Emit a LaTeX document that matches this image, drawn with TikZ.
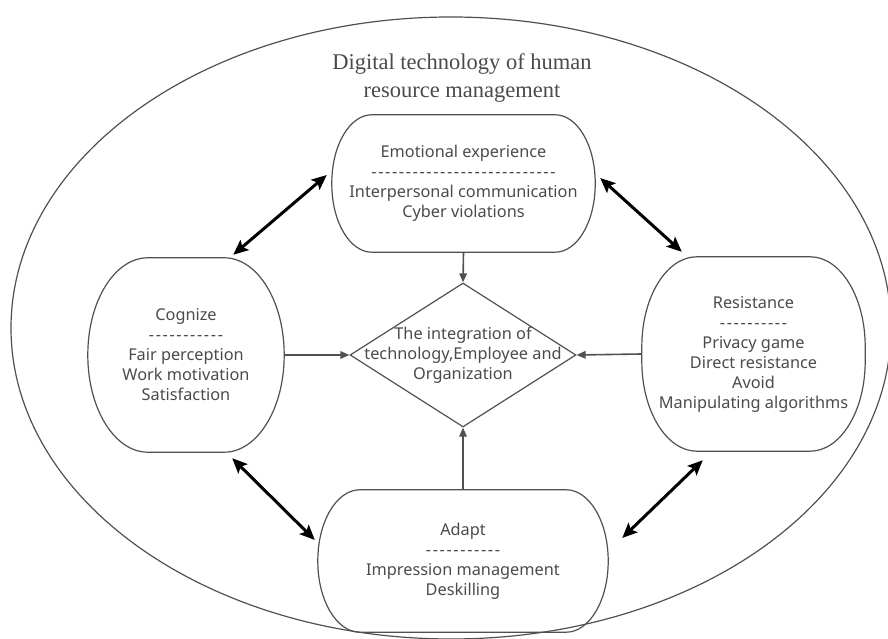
\documentclass[tikz,border=0pt]{standalone}
\usepackage{fontspec}
\setmainfont{Liberation Serif}
\newfontfamily\lab{Noto Sans}
\usetikzlibrary{arrows.meta,shapes.geometric}
\definecolor{ink}{HTML}{505050}
\definecolor{txt}{HTML}{4A4A4A}

% spaced row of hyphens used as a separator inside the boxes
\newcommand\sep[1]{{\addfontfeature{LetterSpace=10}#1}}

% outline with elliptical corners around a (borderless) node
% #1 node name, #2 horizontal corner radius, #3 vertical corner radius
\newcommand\softoutline[3]{%
  \draw[outline] ([xshift=#2]#1.north west) -- ([xshift=-#2]#1.north east)
    arc[start angle=90, end angle=0, x radius=#2, y radius=#3]
    -- ([yshift=#3]#1.south east)
    arc[start angle=0, end angle=-90, x radius=#2, y radius=#3]
    -- ([xshift=#2]#1.south west)
    arc[start angle=270, end angle=180, x radius=#2, y radius=#3]
    -- ([yshift=-#3]#1.north west)
    arc[start angle=180, end angle=90, x radius=#2, y radius=#3]
    -- cycle;}

\tikzset{
  box/.style={rectangle, draw=none, inner sep=0pt, align=center, text=txt,
    font=\lab\fontsize{16.3}{20}\selectfont},
  outline/.style={draw=ink, line width=1.2pt},
  feed/.style={draw=ink, line width=1.6pt, -{Triangle[length=9pt,width=7.5pt]}},
  link/.style={draw=black, line width=3pt,
    {Stealth[length=15pt,width=13pt,inset=3pt]}-{Stealth[length=15pt,width=13pt,inset=3pt]}},
}

\begin{document}
\begin{tikzpicture}[x=1pt,y=1pt]
\useasboundingbox (0,0) rectangle (888,639);

% surrounding ellipse and its heading
\node[ellipse, outline, minimum width=880pt, minimum height=622pt, inner sep=0pt] (frame) at (451,311) {};
\node[font=\fontsize{22.5}{28}\selectfont, text=txt, align=center] (title) at (462,561)
  {Digital technology of human\\resource management};

% the four aspects
\node[box, minimum width=263pt, minimum height=137pt] (emo) at (463.5,455.5)
  {Emotional experience\\\sep{---------------------------}\\Interpersonal communication\\Cyber violations};
\node[box, minimum width=196pt, minimum height=194pt] (cog) at (186,284)
  {Cognize\\\sep{-----------}\\Fair perception\\Work motivation\\Satisfaction};
\node[box, minimum width=223pt, minimum height=194pt] (res) at (753.5,285)
  {Resistance\\\sep{----------}\\Privacy game\\Direct resistance\\Avoid\\Manipulating algorithms};
\node[box, minimum width=290pt, minimum height=142pt] (ada) at (463,78)
  {Adapt\\\sep{-----------}\\Impression management\\Deskilling};

\softoutline{emo}{40pt}{68pt}
\softoutline{cog}{60pt}{97pt}
\softoutline{res}{55pt}{90pt}
\softoutline{ada}{42pt}{71pt}

% central integration
\node[diamond, outline, minimum width=226pt, minimum height=144pt, inner sep=0pt,
  label={[box]center:The integration of\\technology,Employee and\\Organization}] (core) at (463,284) {};

% influences on the centre
\draw[feed] (emo.south) -- (core.north);
\draw[feed] (cog.east) -- (core.west);
\draw[feed] (res.west) -- (core.east);
\draw[feed] (ada.north) -- (core.south);

% mutual relations between neighbouring aspects
\draw[link] ([shift={(-51,3)}]cog.north east) -- ([shift={(-5,8.5)}]emo.west);
\draw[link] ([shift={(5,5.5)}]emo.east) -- ([shift={(40,5)}]res.north west);
\draw[link] ([shift={(-52,-6)}]cog.south east) -- ([shift={(-3,21)}]ada.west);
\draw[link] ([shift={(14,23)}]ada.east) -- ([shift={(61,-9)}]res.south west);
\end{tikzpicture}
\end{document}
